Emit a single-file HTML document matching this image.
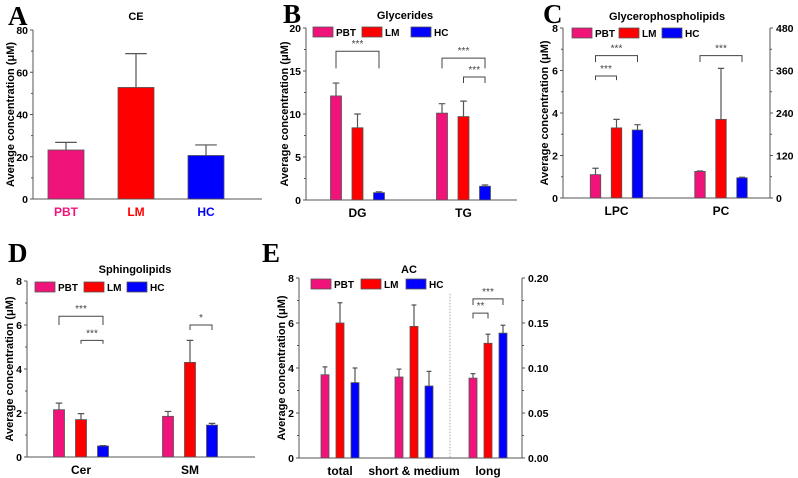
<!DOCTYPE html>
<html><head><meta charset="utf-8"><style>
html,body{margin:0;padding:0;background:#fff;}
svg{display:block;font-family:"Liberation Sans",Arial,sans-serif;}
</style></head><body>
<svg id="chart" width="798" height="478" viewBox="0 0 798 478"></svg>
<script>
// ---- data ----
const groups = ["PBT","LM","HC"];
const colors = ["#f0147a","#ff0000","#0000ff"];
const aCats = ["PBT","LM","HC"];
const aMeans = [23.2,52.8,20.6];
const aErrs = [3.6,16.0,5.0];
const bCats = ["DG","TG"];
const bMeans = [[12.1,8.4,0.85],[10.1,9.7,1.6]];
const bErrs = [[1.5,1.6,0.1],[1.1,1.8,0.15]];
const cCats = ["LPC","PC"];
const cMeans = [[1.1,3.3,3.2],[1.25,3.7,0.95]];
const cErrs = [[0.3,0.4,0.25],[0.02,2.4,0.03]];
const dCats = ["Cer","SM"];
const dMeans = [[2.15,1.7,0.5],[1.85,4.3,1.45]];
const dErrs = [[0.3,0.27,0.02],[0.22,1.0,0.08]];
const eCats = ["total","short & medium","long"];
const eMeans = [[3.7,6.0,3.35],[3.6,5.85,3.2],[3.55,5.1,5.55]];
const eErrs = [[0.35,0.9,0.65],[0.35,0.95,0.65],[0.2,0.4,0.35]];
const leftTicksA = [0,20,40,60,80];
const leftTicksB = [0,5,10,15,20];
const leftTicks8 = [0,2,4,6,8];
const rightTicksC = ["0","120","240","360","480"];
const rightTicksE = ["0.00","0.05","0.10","0.15","0.20"];
// brackets: [category, fromGroup, toGroup, topValue, armValue, label]
const bBrackets = [[0,0,2,17.3,15.3,"***"],[1,0,2,16.5,15.3,"***"],[1,1,2,14.3,13.6,"***"]];
const cBrackets = [[0,0,2,6.7,6.4,"***"],[0,0,1,5.74,5.55,"***"],[1,0,2,6.7,6.4,"***"]];
const dBrackets = [[0,0,2,6.4,6.0,"***"],[0,1,2,5.3,5.15,"***"],[1,1,2,6.0,5.77,"*"]];
const eBrackets = [[2,0,2,7.07,6.8,"***"],[2,0,1,6.44,6.2,"**"]];

const svg = document.getElementById('chart');
const NS = "http://www.w3.org/2000/svg";
function mk(tag, attrs, parent){const e=document.createElementNS(NS,tag);for(const k in attrs)e.setAttribute(k,attrs[k]);(parent||svg).appendChild(e);return e;}
function txt(x,y,s,size,anchor,fill,parent,weight){const t=mk('text',{x:x,y:y,'font-size':size,'text-anchor':anchor||'middle',fill:fill||'#000','font-weight':weight||'bold'},parent);t.textContent=s;return t;}

function panel(p){
  const g=mk('g',{});
  
  
  const ys=v=>p.y0-(v/p.ymax)*(p.y0-p.y1);
  const xs=i=>p.cx0+i*p.cstep;
  const L=txt(p.lx,p.ly,p.letter,27,'start','#000',g,'bold');
  L.setAttribute('font-family','"Liberation Serif",serif');
  
  
  const T=txt(p.tx,p.ty,p.title,11,'middle','#000',g);
  
  
  const ax=mk('g',{stroke:'#555','stroke-width':1},g);
  
  
  mk('line',{x1:p.ax,y1:p.y1,x2:p.ax,y2:p.y0},ax);
  mk('line',{x1:p.ax,y1:p.y0,x2:p.axR,y2:p.y0},ax);
  if(p.rticks) mk('line',{x1:p.axR,y1:p.y1,x2:p.axR,y2:p.y0},ax);
  const n=p.ticks.length;
  for(let k=0;k<n;k++){
    const v=p.ticks[k], y=ys(v);
    mk('line',{x1:p.ax-3,y1:y,x2:p.ax,y2:y},ax);
    if(k<n-1){const ym=ys(v+(p.ticks[1]-p.ticks[0])/2);mk('line',{x1:p.ax-2,y1:ym,x2:p.ax,y2:ym},ax);}
    const t=txt(p.ax-5,y+4,String(v),10.5,'end','#000',g);
    
    
    if(p.rticks){
      mk('line',{x1:p.axR,y1:y,x2:p.axR+3,y2:y},ax);
      if(k<n-1){const ym=ys(v+(p.ticks[1]-p.ticks[0])/2);mk('line',{x1:p.axR,y1:ym,x2:p.axR+2,y2:ym},ax);}
      const r=txt(p.axR+6,y+4,p.rticks[k],10.5,'start','#000',g);
      
      
    }
  }
  const yt=txt(0,0,'Average concentration (\u03bcM)',11,'middle','#000',g);
  yt.setAttribute('transform','translate('+p.ytx+','+((p.y0+p.y1)/2)+') rotate(-90)');
  
  
  for(let c=0;c<p.cats.length;c++){
    const cl=txt(xs(c),p.y0+17,p.cats[c],12,'middle',p.catColors?p.catColors[c]:'#000',g);
    
    
    for(let s=0;s<p.nser;s++){
      const m=p.nser===1?p.means[c]:p.means[c][s];
      const e=p.nser===1?p.errs[c]:p.errs[c][s];
      const col=p.nser===1?colors[c]:colors[s];
      const cx=xs(c)+(p.nser===1?0:(s-1)*p.gstep);
      const r=mk('rect',{x:cx-p.bw/2,y:ys(m),width:p.bw,height:p.y0-ys(m),fill:col,stroke:'#555','stroke-width':0.8},g);
      
      
      const eb=mk('path',{d:'M'+cx+' '+ys(m)+'V'+ys(m+e)+'M'+(cx-p.bw*0.3)+' '+ys(m+e)+'H'+(cx+p.bw*0.3),stroke:'#555','stroke-width':1.2,fill:'none'},g);
      
      
    }
  }
  (p.brackets||[]).forEach(b=>{
    const xa=xs(b[0])+(b[1]-1)*p.gstep, xb=xs(b[0])+(b[2]-1)*p.gstep;
    const br=mk('path',{d:'M'+xa+' '+ys(b[4])+'V'+ys(b[3])+'H'+xb+'V'+ys(b[4]),stroke:'#444','stroke-width':1,fill:'none'},g);
    
    
    const st=txt((xa+xb)/2,ys(b[3])-4,b[5],10,'middle','#444',g,'normal');
    
    
  });
  if(p.leg){
    for(let s=0;s<3;s++){
      const lg=mk('g',{},g);
      
      
      mk('rect',{x:p.leg[s],y:p.legY,width:20,height:10,fill:colors[s],stroke:'#555','stroke-width':0.8},lg);
      txt(p.leg[s]+23,p.legY+9,groups[s],10,'start','#000',lg);
    }
  }
  if(p.extra) p.extra(g,ys,xs);
}

panel({name:'panel-a-ce',letter:'A',lx:8,ly:25,title:'CE',tx:136,ty:20,ax:33,axR:262,y0:199,y1:30,ymax:80,ticks:leftTicksA,ytx:14,
  cats:aCats,nser:1,means:aMeans,errs:aErrs,cx0:66,cstep:70,bw:36,gstep:0,catColors:colors});
panel({name:'panel-b-glycerides',letter:'B',lx:283,ly:23,title:'Glycerides',tx:405,ty:19,ax:306,axR:517,y0:200,y1:28,ymax:20,ticks:leftTicksB,ytx:288,
  cats:bCats,nser:3,means:bMeans,errs:bErrs,cx0:357.5,cstep:106,bw:11,gstep:21.5,brackets:bBrackets,leg:[313,362,411],legY:27});
panel({name:'panel-c-glycerophospholipids',letter:'C',lx:543,ly:23,title:'Glycerophospholipids',tx:667,ty:20,ax:563,axR:770,y0:198,y1:28,ymax:8,ticks:leftTicks8,rticks:rightTicksC,ytx:548,
  cats:cCats,nser:3,means:cMeans,errs:cErrs,cx0:616.5,cstep:104.5,bw:10.5,gstep:21,brackets:cBrackets,leg:[572,619,662],legY:28});
panel({name:'panel-d-sphingolipids',letter:'D',lx:8,ly:262,title:'Sphingolipids',tx:135,ty:273,ax:27,axR:255,y0:457,y1:281,ymax:8,ticks:leftTicks8,ytx:13,
  cats:dCats,nser:3,means:dMeans,errs:dErrs,cx0:81,cstep:109,bw:11,gstep:22,brackets:dBrackets,leg:[35,84,127],legY:282});
panel({name:'panel-e-ac',letter:'E',lx:262,ly:262,title:'AC',tx:409,ty:273,ax:299,axR:522,y0:458,y1:278,ymax:8,ticks:leftTicks8,rticks:rightTicksE,ytx:285,
  cats:eCats,nser:3,means:eMeans,errs:eErrs,cx0:340,cstep:74,bw:8,gstep:15,brackets:eBrackets,leg:[311,361,406],legY:279,
  extra:(g,ys,xs)=>{const l=mk('line',{x1:450,y1:ys(7.3),x2:450,y2:ys(0),stroke:'#aaa','stroke-dasharray':'1.5,1.5'},g);
    
    }});
</script>
</body></html>
